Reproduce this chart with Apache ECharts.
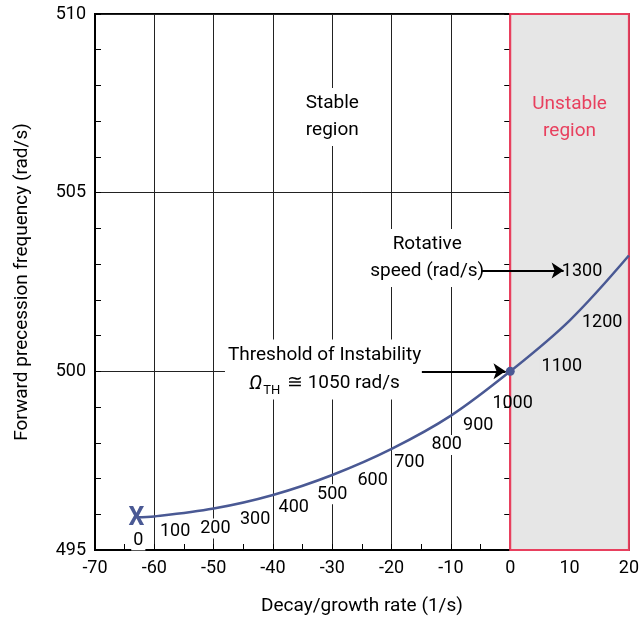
<!DOCTYPE html>
<html>
<head>
<meta charset="utf-8">
<script src="https://cdn.jsdelivr.net/npm/echarts@6/dist/echarts.min.js"></script>
<style>
html,body{margin:0;padding:0;background:#fff;}
#chart{width:642px;height:627px;}
</style>
</head>
<body>
<div id="chart"></div>
<script>
// ---- data ----
const curveX = [-63, -60, -50, -40, -30, -20, -10, 0, 10, 20];
const curveY = [495.92, 495.94, 496.16, 496.54, 497.1, 497.83, 498.76, 500, 501.42, 503.24];
const speeds = [0, 100, 200, 300, 400, 500, 600, 700, 800, 900, 1000, 1100, 1200, 1300];
const speedLabelX = [-62.7, -56.5, -49.7, -43.0, -36.5, -30.0, -23.2, -17.0, -10.7, -5.4, 0.4, 8.7, 15.5, 12.1];
const speedLabelY = [495.27, 495.51, 495.6, 495.85, 496.2, 496.56, 496.95, 497.45, 497.94, 498.48, 499.1, 500.13, 501.37, 502.8];
const startPoint = [-63, 495.92];
const thresholdPoint = [0, 500];
const thresholdSpeed = 1050;
const xTicks = [-70, -60, -50, -40, -30, -20, -10, 0, 10, 20];
const yTicks = [495, 500, 505, 510];
const unstableRange = [0, 20];

const FONT = 'Roboto, "Liberation Sans", sans-serif';
const CURVE = '#4a5994';
const RED = '#e8405e';
const GRAYFILL = '#e6e6e6';
const INK = '#000';

const curveData = curveX.map((x, i) => [x, curveY[i]]);
const speedData = speeds.map((s, i) => ({
  value: [speedLabelX[i], speedLabelY[i]],
  name: String(s),
  label: { backgroundColor: speedLabelX[i] > 3 ? GRAYFILL : (s === 1000 ? 'transparent' : '#fff') }
}));

const notes = [
  { value: [-30, 507.12], name: 'Stable\nregion', label: { backgroundColor: '#fff' } },
  { value: [10, 507.1], name: 'Unstable\nregion', label: { color: RED, backgroundColor: GRAYFILL } },
  { value: [-14.0, 503.17], name: 'Rotative\nspeed (rad/s)', label: { backgroundColor: '#fff', padding: [2, 1] } },
  { value: [-31.3, 500.05], name: 'threshold', label: {
      backgroundColor: '#fff',
      formatter: '{n|Threshold of Instability}\n{o|Ω}{s|TH}{n| ≅ ' + thresholdSpeed + ' rad/s}'
  } }
];

const hidden = { color: 'rgba(0,0,0,0)', opacity: 1 };

const chart = echarts.init(document.getElementById('chart'), null, { renderer: 'canvas' });
chart.setOption({
  animation: false,
  backgroundColor: '#fff',
  textStyle: { fontFamily: FONT },
  grid: { left: 95, right: 8, top: 14, bottom: 77, show: true, borderColor: '#000', borderWidth: 2, backgroundColor: 'transparent' },
  xAxis: {
    type: 'value', min: xTicks[0], max: xTicks[xTicks.length - 1], interval: 10,
    name: 'Decay/growth rate (1/s)', nameLocation: 'middle', nameGap: 47,
    nameTextStyle: { fontSize: 19, color: INK, fontFamily: FONT },
    axisLine: { onZero: false, lineStyle: { color: '#000', width: 2 } },
    axisTick: { show: true, inside: true, length: 6, lineStyle: { color: '#000' } },
    minorTick: { show: true, splitNumber: 2, length: 6, lineStyle: { color: '#000', width: 1 } },
    splitLine: { show: true, lineStyle: { color: '#222', width: 1 } },
    axisLabel: { fontSize: 18, color: INK, margin: 9, fontFamily: FONT }
  },
  yAxis: [{
    type: 'value', min: yTicks[0], max: yTicks[yTicks.length - 1], interval: 5,
    name: 'Forward precession frequency (rad/s)', nameLocation: 'middle', nameGap: 63,
    nameTextStyle: { fontSize: 19, color: INK, fontFamily: FONT },
    axisLine: { onZero: false, lineStyle: { color: '#000', width: 2 } },
    axisTick: { show: true, inside: true, length: 6, lineStyle: { color: '#000' } },
    minorTick: { show: true, splitNumber: 5, length: 6, lineStyle: { color: '#000', width: 1 } },
    splitLine: { show: true, lineStyle: { color: '#222', width: 1 } },
    axisLabel: { fontSize: 18, color: INK, margin: 9, fontFamily: FONT }
  }, {
    type: 'value', min: yTicks[0], max: yTicks[yTicks.length - 1], interval: 5, position: 'left',
    axisLine: { show: true, onZero: true, lineStyle: { color: RED, width: 2 } },
    axisTick: { show: true, inside: false, length: 6, lineStyle: { color: '#000' } },
    minorTick: { show: true, splitNumber: 5, length: 6, lineStyle: { color: '#000', width: 1 } },
    splitLine: { show: false },
    axisLabel: { show: false }
  }],
  series: [
    { // gray unstable fill, below grid lines
      type: 'line', data: [], z: -1, silent: true,
      markArea: { silent: true, itemStyle: { color: GRAYFILL, borderWidth: 0, opacity: 1 },
        data: [[{ coord: [unstableRange[0], yTicks[0]] }, { coord: [unstableRange[1], yTicks[yTicks.length - 1]] }]] }
    },
    { // red border on top
      type: 'line', data: [], z: 10, silent: true,
      markArea: { silent: true, itemStyle: { color: 'rgba(0,0,0,0)', borderColor: RED, borderWidth: 2, opacity: 1 },
        data: [[{ coord: [unstableRange[0], yTicks[0]] }, { coord: [unstableRange[1], yTicks[yTicks.length - 1]] }]] }
    },
    {
      type: 'line', data: curveData, smooth: 0.35, showSymbol: false, z: 5,
      lineStyle: { color: CURVE, width: 2.5 }
    },
    {
      type: 'scatter', data: [thresholdPoint], symbolSize: 9, z: 12,
      itemStyle: { color: CURVE, opacity: 1 }
    },
    {
      type: 'scatter', data: [startPoint], symbolSize: 1, z: 6,
      itemStyle: hidden,
      label: { show: true, position: 'inside', offset: [0, 2], formatter: 'X', fontSize: 25, fontWeight: 'bold', color: CURVE, fontFamily: FONT }
    },
    {
      type: 'scatter', data: speedData, symbolSize: 1, z: 4,
      itemStyle: hidden,
      label: { show: true, position: 'inside', formatter: '{b}', fontSize: 18, color: INK, fontFamily: FONT, padding: [1, 2] }
    },
    {
      type: 'scatter', data: notes, symbolSize: 1, z: 4,
      itemStyle: hidden,
      label: { show: true, position: 'inside', formatter: '{b}', fontSize: 19, lineHeight: 27, color: INK, fontFamily: FONT, padding: [2, 3], align: 'center',
        rich: {
          n: { fontSize: 19, lineHeight: 28, color: INK, fontFamily: FONT },
          o: { fontSize: 20, lineHeight: 28, fontStyle: 'italic', color: INK, fontFamily: FONT },
          s: { fontSize: 13, lineHeight: 28, verticalAlign: 'bottom', color: INK, fontFamily: FONT, padding: [0, 2, 0, 1] }
        }
      }
    },
    {
      type: 'line', data: [], z: 8,
      markLine: {
        silent: true, symbol: ['none', 'arrow'], symbolSize: 12,
        label: { show: false },
        lineStyle: { color: '#000', width: 2, type: 'solid', opacity: 1 },
        itemStyle: { color: '#000' },
        data: [
          [{ coord: [-14.9, thresholdPoint[1]] }, { coord: [-0.8, thresholdPoint[1]] }],
          [{ coord: [-4.8, 502.82] }, { coord: [9.0, 502.82] }]
        ]
      }
    }
  ]
});
</script>
</body>
</html>
